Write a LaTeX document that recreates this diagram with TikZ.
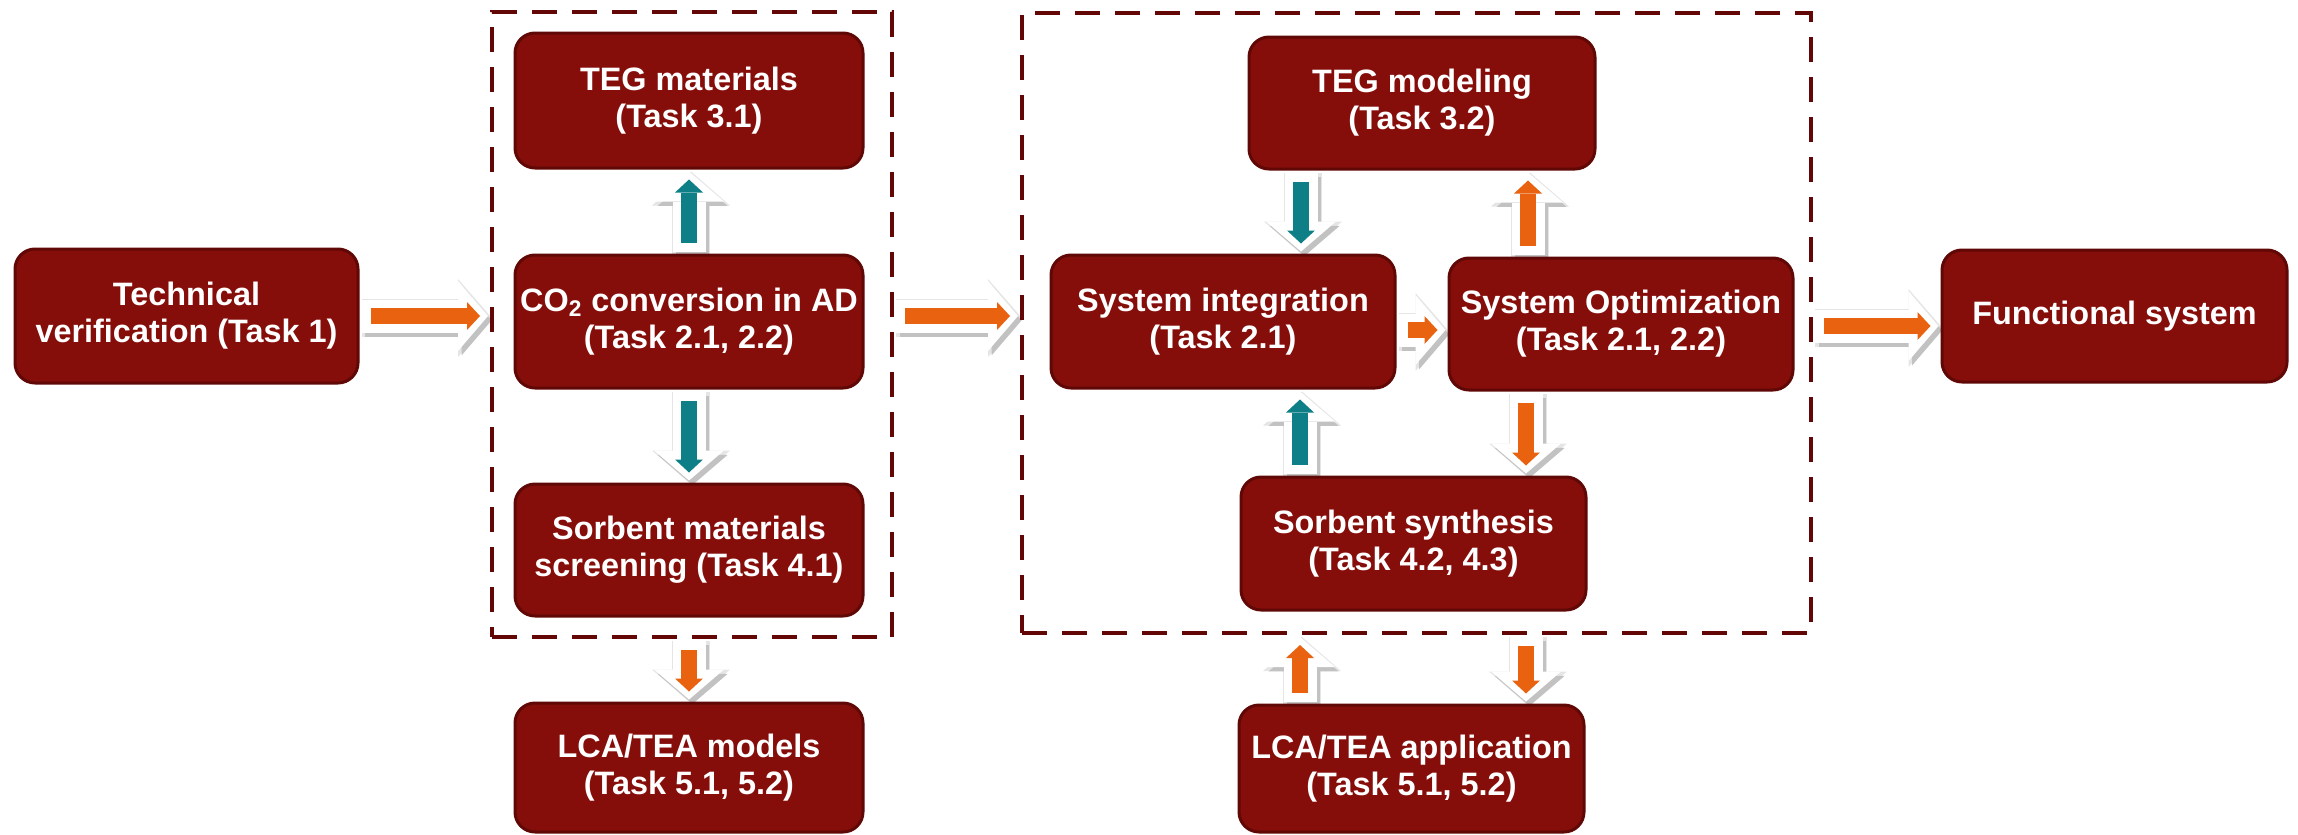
\documentclass[tikz,border=0pt]{standalone}
\usepackage{fontspec}
\setmainfont{Liberation Sans}
\usetikzlibrary{arrows.meta}
\definecolor{boxred}{RGB}{133,14,11}
\definecolor{boxedge}{RGB}{95,8,6}
\definecolor{dashc}{RGB}{98,6,6}
\definecolor{orng}{RGB}{232,98,16}
\definecolor{tealc}{RGB}{14,127,134}
\pgfdeclarelayer{bg}
\pgfsetlayers{bg,main}
\newcommand\barrow[3]{%
 \begin{pgfonlayer}{bg}\draw[arrglow] #2 -- #3;\draw[arrshadow] #2 -- #3;\end{pgfonlayer}
 \draw[arrwhite] #2 -- #3;
 \draw[arrinner, color=#1] #2 -- #3;}
\begin{document}
\begin{tikzpicture}[x=0.5pt,y=-0.5pt,
 box/.style={draw=boxedge, line width=1.5pt, fill=boxred, rounded corners=10pt, text=white,
   font=\fontsize{16.2pt}{18.5pt}\selectfont\bfseries, align=center, inner sep=0pt},
 grp/.style={draw=dashc, line width=2pt, dash pattern=on 12.5pt off 7.5pt, inner sep=0pt},
 arrwhite/.style={draw=white, line width=16.5pt, -{Triangle[width=35pt,length=15pt,line width=0pt]}, shorten <=1pt, shorten >=1pt},
 arrglow/.style={draw=black!10, line width=19pt, -{Triangle[width=39pt,length=17pt,line width=0pt]}, shorten <=0pt, shorten >=0pt, transform canvas={xshift=1pt,yshift=-1pt}},
 arrshadow/.style={arrwhite, draw=black!24, transform canvas={xshift=1.8pt,yshift=-2.2pt}},
 arrinner/.style={line width=8pt, -{Triangle[width=14pt,length=6.5pt,line width=0pt]}, shorten <=5.5pt, shorten >=5pt}]
\useasboundingbox (0,0) rectangle (2298,835);

% groups
\node[grp, minimum width=200pt, minimum height=312.5pt] (grp1) at (692,324.5) {};
\node[grp, minimum width=394.5pt, minimum height=310pt] (grp2) at (1416.5,323) {};

% boxes
\node[box, minimum width=171.5pt, minimum height=67pt] (tech) at (186.5,316) {Technical\\verification (Task 1)};
\node[box, minimum width=174pt, minimum height=67.5pt] (tegmat) at (689,100.5) {TEG materials\\(Task 3.1)};
\node[box, minimum width=174pt, minimum height=66.5pt] (co2) at (689,321.5) {CO\textsubscript{2} conversion in AD\\(Task 2.1, 2.2)};
\node[box, minimum width=174pt, minimum height=66pt] (sorbm) at (689,550) {Sorbent materials\\screening (Task 4.1)};
\node[box, minimum width=174pt, minimum height=64.5pt] (lcam) at (689,767.5) {LCA/TEA models\\(Task 5.1, 5.2)};
\node[box, minimum width=173pt, minimum height=66pt] (tegmod) at (1422,103) {TEG modeling\\(Task 3.2)};
\node[box, minimum width=172pt, minimum height=66.5pt] (sysint) at (1223,321.5) {System integration\\(Task 2.1)};
\node[box, minimum width=172pt, minimum height=66pt] (sysopt) at (1621,324) {System Optimization\\(Task 2.1, 2.2)};
\node[box, minimum width=172.5pt, minimum height=66.5pt] (sorbs) at (1413.5,543.5) {Sorbent synthesis\\(Task 4.2, 4.3)};
\node[box, minimum width=172.5pt, minimum height=63.5pt] (lcaa) at (1411.5,768.5) {LCA/TEA application\\(Task 5.1, 5.2)};
\node[box, minimum width=172.5pt, minimum height=66pt] (func) at (2114.5,316) {Functional system};

% helper coordinates
\coordinate (ya) at (0,316);
\coordinate (yb) at (0,326);
\coordinate (yc) at (0,330);
\coordinate (xa) at (1301,0);
\coordinate (xb) at (1528,0);
\coordinate (xc) at (1300,0);
\coordinate (xd) at (1526,0);

% arrows
\barrow{orng}{(tech.east)}{(tech.east -| grp1.west)}
\barrow{tealc}{(co2.north)}{(tegmat.south)}
\barrow{tealc}{(co2.south)}{(sorbm.north)}
\barrow{orng}{(lcam.north |- grp1.south)}{(lcam.north)}
\barrow{orng}{(grp1.east |- ya)}{(grp2.west |- ya)}
\barrow{tealc}{(tegmod.south -| xa)}{(sysint.north -| xa)}
\barrow{orng}{(sysopt.north -| xb)}{(tegmod.south -| xb)}
\barrow{orng}{(sysint.east |- yc)}{(sysopt.west |- yc)}
\barrow{orng}{(sysopt.south -| xd)}{(sorbs.north -| xd)}
\barrow{tealc}{(sorbs.north -| xc)}{(sysint.south -| xc)}
\barrow{orng}{(lcaa.north -| xc)}{(grp2.south -| xc)}
\barrow{orng}{(grp2.south -| xd)}{(lcaa.north -| xd)}
\barrow{orng}{(grp2.east |- yb)}{(func.west |- yb)}
\end{tikzpicture}
\end{document}
